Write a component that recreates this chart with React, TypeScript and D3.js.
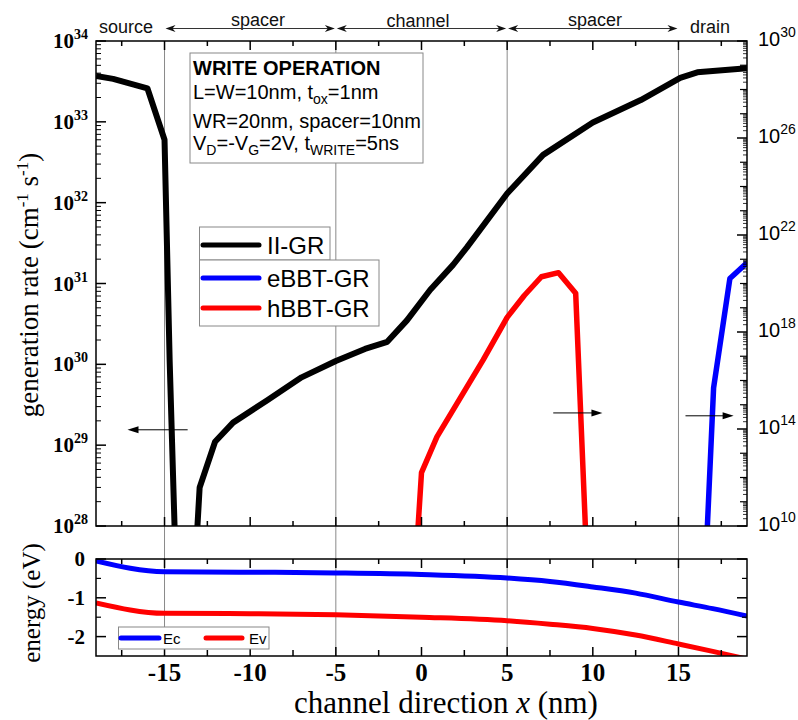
import React from 'react';
import * as d3 from 'd3';

const W = 798, H = 720;
const SANS = "'Liberation Sans', Arial, sans-serif";
const SERIF = "'Liberation Serif', 'Times New Roman', serif";

// x axis
const xDomain = [-19, 19];
const xMajorTicks = [-15, -10, -5, 0, 5, 10, 15];
const xMinorTicks = [-17.5, -12.5, -7.5, -2.5, 2.5, 7.5, 12.5, 17.5];
const regionBounds = [-15, -5, 5, 15];
const regionLabels = ['source', 'spacer', 'channel', 'spacer', 'drain'];

// II-GR (left axis, cm^-1 s^-1); null = break
const iiX = [-19, -18, -16, -15, -14.7, -14.36, -13.7, -13.16, -12.95, -12.05, -11, -9, -7, -5, -3.3, -2.0, -0.85, 0.5, 1.84, 2.65, 5, 7.1, 10, 12.8, 15.1, 16.1, 19];
const iiGR = [3.7e33, 3.4e33, 2.6e33, 6.0e32, 1.1e30, 4e27, null, 5e27, 3.0e28, 1.1e29, 1.9e29, 3.6e29, 6.9e29, 1.1e30, 1.55e30, 1.9e30, 3.5e30, 8.3e30, 1.7e31, 2.8e31, 1.3e32, 3.9e32, 9.8e32, 1.86e33, 3.5e33, 4.1e33, 4.6e33];

// hBBT-GR (right axis)
const hX = [-0.25, 0, 0.9, 3.6, 5, 6, 7, 8, 9, 9.6];
const hGR = [2.6e9, 1.6e12, 4.7e13, 7.1e16, 4.0e18, 3.2e19, 1.9e20, 2.8e20, 4.0e19, 2.5e9];

// eBBT-GR (right axis)
const eX = [16.65, 17.05, 18, 19];
const eGR = [2.6e9, 5.0e15, 1.6e20, 7.1e20];

// band energies
const bandX = [-19, -15, -10, -5, 0, 5, 7.5, 10, 12.5, 15, 17, 19];
const ecVals = [-0.05, -0.33, -0.34, -0.36, -0.40, -0.49, -0.58, -0.72, -0.88, -1.11, -1.28, -1.47];
const evVals = [-1.13, -1.40, -1.41, -1.44, -1.50, -1.59, -1.68, -1.79, -1.96, -2.19, -2.38, -2.58];

const leftExps = [28, 29, 30, 31, 32, 33, 34];
const rightMajorExps = [10, 14, 18, 22, 26, 30];
const energyMajor = [0, -1, -2];
const energyMinor = [-0.5, -1.5];

// layout
const L = 96, R = 747, T = 41, B = 526, T2 = 559, B2 = 656;

const x = d3.scaleLinear().domain(xDomain).range([L, R]);
const yL = d3.scaleLog().domain([1e28, 1e34]).range([B, T]);
const yR = d3.scaleLog().domain([1e10, 1e30]).range([B, T]);
const yE = d3.scaleLinear().domain([-2.5, 0]).range([B2, T2]);

type P = { x: number; v: number | null };
const zip = (xs: number[], vs: (number | null)[]): P[] => xs.map((xx, i) => ({ x: xx, v: vs[i] }));

function arrowHead(tipX: number, tipY: number, dir: number, len = 10, half = 3.5, notch = 7) {
  return `M${tipX},${tipY} L${tipX - dir * len},${tipY - half} L${tipX - dir * notch},${tipY} L${tipX - dir * len},${tipY + half} Z`;
}

export default function App() {
  const lineL = d3.line<P>().defined(d => d.v != null).x(d => x(d.x)).y(d => yL(d.v as number));
  const lineR = d3.line<P>().defined(d => d.v != null).x(d => x(d.x)).y(d => yR(d.v as number));
  const lineE = d3.line<P>().x(d => x(d.x)).y(d => yE(d.v as number)).curve(d3.curveMonotoneX);

  const leftMinor: number[] = [];
  for (let e = 28; e < 34; e++) for (let m = 2; m <= 9; m++) leftMinor.push(m * Math.pow(10, e));
  const rightMinor: number[] = [];
  const rightDecades: number[] = [];
  for (let e = 10; e < 30; e++) {
    if (!rightMajorExps.includes(e)) rightDecades.push(Math.pow(10, e));
    for (let m = 2; m <= 9; m++) rightMinor.push(m * Math.pow(10, e));
  }

  const headerY = 28.5;
  const regionPairs = [[-15, -5], [-5, 5], [5, 15]];
  const labelX = [126, 258, 418, 595, 710];
  const labelBase = [33, 26, 27, 26, 33];

  const vline = (xx: number, y1: number, y2: number, len: number, key: string) =>
    <line key={key} x1={x(xx)} x2={x(xx)} y1={y1} y2={y1 + len} stroke="#000" strokeWidth={1.5} />;

  return (
    <svg width={W} height={H} style={{ position: 'absolute', left: 0, top: 0, background: '#fff' }}>
      <defs>
        <clipPath id="clipTop"><rect x={L} y={T} width={R - L} height={B - T} /></clipPath>
        <clipPath id="clipBot"><rect x={L} y={T2} width={R - L} height={B2 - T2} /></clipPath>
      </defs>
      <rect x={0} y={0} width={W} height={H} fill="#fff" />

      {/* region gridlines */}
      {regionBounds.map(b => (
        <line key={'g' + b} x1={x(b)} x2={x(b)} y1={T} y2={B2} stroke="#8a8a8a" strokeWidth={1} />
      ))}

      {/* header labels and arrows */}
      {regionLabels.map((t, i) => (
        <text key={'rl' + i} x={labelX[i]} y={labelBase[i]} fontFamily={SANS} fontSize={18} textAnchor="middle" fill="#111">{t}</text>
      ))}
      {regionPairs.map(([a, b], i) => (
        <g key={'ra' + i}>
          <line x1={x(a) + 3} x2={x(b) - 3} y1={headerY} y2={headerY} stroke="#333" strokeWidth={1} />
          <path d={arrowHead(x(a) + 1, headerY, -1)} fill="#111" />
          <path d={arrowHead(x(b) - 1, headerY, 1)} fill="#111" />
        </g>
      ))}

      {/* top panel curves */}
      <g clipPath="url(#clipTop)">
        <path d={lineL(zip(iiX, iiGR)) || ''} fill="none" stroke="#000" strokeWidth={6} strokeLinejoin="round" />
        <path d={lineR(zip(hX, hGR)) || ''} fill="none" stroke="#ff0000" strokeWidth={5.5} strokeLinejoin="round" />
        <path d={lineR(zip(eX, eGR)) || ''} fill="none" stroke="#0000ff" strokeWidth={5.5} strokeLinejoin="round" />
      </g>

      {/* axis-direction arrows */}
      {(() => {
        const ay = yL(1.55e29);
        const x1 = x(-13.65), x2 = x(-17.16);
        return (
          <g>
            <line x1={x1} x2={x2 + 8} y1={ay} y2={ay} stroke="#000" strokeWidth={1} />
            <path d={arrowHead(x2, ay, -1, 11, 3.5, 11)} fill="#000" />
          </g>
        );
      })()}
      {[[7.69, 10.56, 4.6e14], [15.41, 18.22, 3.5e14]].map(([a, b, v], i) => {
        const ay = yR(v);
        return (
          <g key={'ar' + i}>
            <line x1={x(a)} x2={x(b) - 8} y1={ay} y2={ay} stroke="#000" strokeWidth={1} />
            <path d={arrowHead(x(b), ay, 1, 11, 3.5, 11)} fill="#000" />
          </g>
        );
      })}

      {/* top panel frame */}
      <rect x={L} y={T} width={R - L} height={B - T} fill="none" stroke="#000" strokeWidth={1.5} />
      {xMajorTicks.map(t => (
        <g key={'tm' + t}>
          {vline(t, T, 0, 9, 'a')}
          {vline(t, B, 0, -9, 'b')}
        </g>
      ))}
      {xMinorTicks.map(t => (
        <g key={'tn' + t}>
          {vline(t, T, 0, 5, 'a')}
          {vline(t, B, 0, -5, 'b')}
        </g>
      ))}
      {/* left axis ticks */}
      {leftExps.map(e => (
        <line key={'lt' + e} x1={L} x2={L + 10} y1={yL(Math.pow(10, e))} y2={yL(Math.pow(10, e))} stroke="#000" strokeWidth={1.5} />
      ))}
      {leftMinor.map((v, i) => (
        <line key={'lm' + i} x1={L} x2={L + 5} y1={yL(v)} y2={yL(v)} stroke="#000" strokeWidth={1} />
      ))}
      {leftExps.map(e => (
        <text key={'ll' + e} x={88} y={yL(Math.pow(10, e)) + 7} fontFamily={SERIF} fontWeight="bold" fontSize={21} textAnchor="end" fill="#000">
          10<tspan fontSize={14} dy={-9}>{e}</tspan>
        </text>
      ))}
      {/* right axis ticks */}
      {rightMajorExps.map(e => (
        <line key={'rt' + e} x1={R} x2={R - 10} y1={yR(Math.pow(10, e))} y2={yR(Math.pow(10, e))} stroke="#000" strokeWidth={1.5} />
      ))}
      {rightDecades.map((v, i) => (
        <line key={'rd' + i} x1={R} x2={R - 7} y1={yR(v)} y2={yR(v)} stroke="#000" strokeWidth={1.2} />
      ))}
      {rightMinor.map((v, i) => (
        <line key={'rm' + i} x1={R} x2={R - 4} y1={yR(v)} y2={yR(v)} stroke="#000" strokeWidth={0.8} />
      ))}
      {rightMajorExps.map(e => (
        <text key={'rl' + e} x={758} y={yR(Math.pow(10, e)) + 5} fontFamily={SANS} fontSize={20} fill="#000">
          10<tspan fontSize={14} dy={-9}>{e}</tspan>
        </text>
      ))}

      {/* legend (top) */}
      <rect x={199.5} y={227} width={130.5} height={33} fill="#fff" stroke="#888" strokeWidth={1} />
      <rect x={199.5} y={260} width={179.5} height={66} fill="#fff" stroke="#888" strokeWidth={1} />
      {[
        { label: 'II-GR', color: '#000', y: 245 },
        { label: 'eBBT-GR', color: '#0000ff', y: 278 },
        { label: 'hBBT-GR', color: '#ff0000', y: 308 },
      ].map(d => (
        <g key={d.label}>
          <line x1={203} x2={259} y1={d.y} y2={d.y} stroke={d.color} strokeWidth={5} strokeLinecap="round" />
          <text x={267} y={d.y + 9} fontFamily={SANS} fontSize={24} fill="#000">{d.label}</text>
        </g>
      ))}

      {/* info box */}
      <rect x={190} y={53} width={233} height={110} fill="#fff" stroke="#888" strokeWidth={1} />
      <text x={193} y={75} fontFamily={SANS} fontSize={20} fontWeight="bold" fill="#000">WRITE OPERATION</text>
      <text x={193} y={99} fontFamily={SANS} fontSize={20} fill="#000">
        L=W=10nm, t<tspan fontSize={14} dy={5}>ox</tspan><tspan dy={-5}>=1nm</tspan>
      </text>
      <text x={193} y={128} fontFamily={SANS} fontSize={20} fill="#000">WR=20nm, spacer=10nm</text>
      <text x={193} y={150} fontFamily={SANS} fontSize={20} fill="#000">
        V<tspan fontSize={14} dy={5}>D</tspan><tspan dy={-5}>=-V</tspan><tspan fontSize={14} dy={5}>G</tspan><tspan dy={-5}>=2V, t</tspan><tspan fontSize={14} dy={5}>WRITE</tspan><tspan dy={-5}>=5ns</tspan>
      </text>

      {/* bottom panel */}
      <g clipPath="url(#clipBot)">
        <path d={lineE(zip(bandX, ecVals)) || ''} fill="none" stroke="#0000ff" strokeWidth={5} />
        <path d={lineE(zip(bandX, evVals)) || ''} fill="none" stroke="#ff0000" strokeWidth={5} />
      </g>
      <rect x={L} y={T2} width={R - L} height={B2 - T2} fill="none" stroke="#000" strokeWidth={1.5} />
      {xMajorTicks.map(t => (
        <g key={'bm' + t}>
          {vline(t, T2, 0, 9, 'a')}
          {vline(t, B2, 0, -9, 'b')}
        </g>
      ))}
      {xMinorTicks.map(t => (
        <g key={'bn' + t}>
          {vline(t, T2, 0, 5, 'a')}
          {vline(t, B2, 0, -6, 'b')}
        </g>
      ))}
      {energyMajor.map(v => (
        <g key={'em' + v}>
          <line x1={L} x2={L + 10} y1={yE(v)} y2={yE(v)} stroke="#000" strokeWidth={1.5} />
          <line x1={R} x2={R - 10} y1={yE(v)} y2={yE(v)} stroke="#000" strokeWidth={1.5} />
          <text x={85} y={yE(v) + 7} fontFamily={SERIF} fontWeight="bold" fontSize={21} textAnchor="end" fill="#000">{v === 0 ? '0' : '-' + Math.abs(v)}</text>
        </g>
      ))}
      {energyMinor.map(v => (
        <g key={'en' + v}>
          <line x1={L} x2={L + 5} y1={yE(v)} y2={yE(v)} stroke="#000" strokeWidth={1.2} />
          <line x1={R} x2={R - 5} y1={yE(v)} y2={yE(v)} stroke="#000" strokeWidth={1.2} />
        </g>
      ))}
      {/* bottom legend */}
      <rect x={118.5} y={627} width={150.5} height={22} fill="#fff" stroke="#888" strokeWidth={1} />
      <line x1={121} x2={159} y1={638} y2={638} stroke="#0000ff" strokeWidth={5} strokeLinecap="round" />
      <text x={163} y={644} fontFamily={SANS} fontSize={15} fill="#000">Ec</text>
      <line x1={206} x2={242} y1={638} y2={638} stroke="#ff0000" strokeWidth={5} strokeLinecap="round" />
      <text x={249} y={644} fontFamily={SANS} fontSize={15} fill="#000">Ev</text>

      {/* x tick labels */}
      {xMajorTicks.map(t => (
        <text key={'xl' + t} x={x(t)} y={681} fontFamily={SERIF} fontWeight="bold" fontSize={25} textAnchor="middle" fill="#000">{t < 0 ? '-' + Math.abs(t) : String(t)}</text>
      ))}
      <text x={446} y={713} fontFamily={SERIF} fontSize={31} textAnchor="middle" fill="#000">
        channel direction <tspan fontStyle="italic">x</tspan> (nm)
      </text>

      {/* y titles */}
      <text transform="translate(38,285) rotate(-90)" fontFamily={SERIF} fontSize={27} textAnchor="middle" fill="#000">
        generation rate (cm<tspan fontSize={17} dy={-10}>-1</tspan><tspan dy={10}> s</tspan><tspan fontSize={17} dy={-10}>-1</tspan><tspan dy={10}>)</tspan>
      </text>
      <text transform="translate(40,603) rotate(-90)" fontFamily={SERIF} fontSize={25} textAnchor="middle" fill="#000">energy (eV)</text>
    </svg>
  );
}
